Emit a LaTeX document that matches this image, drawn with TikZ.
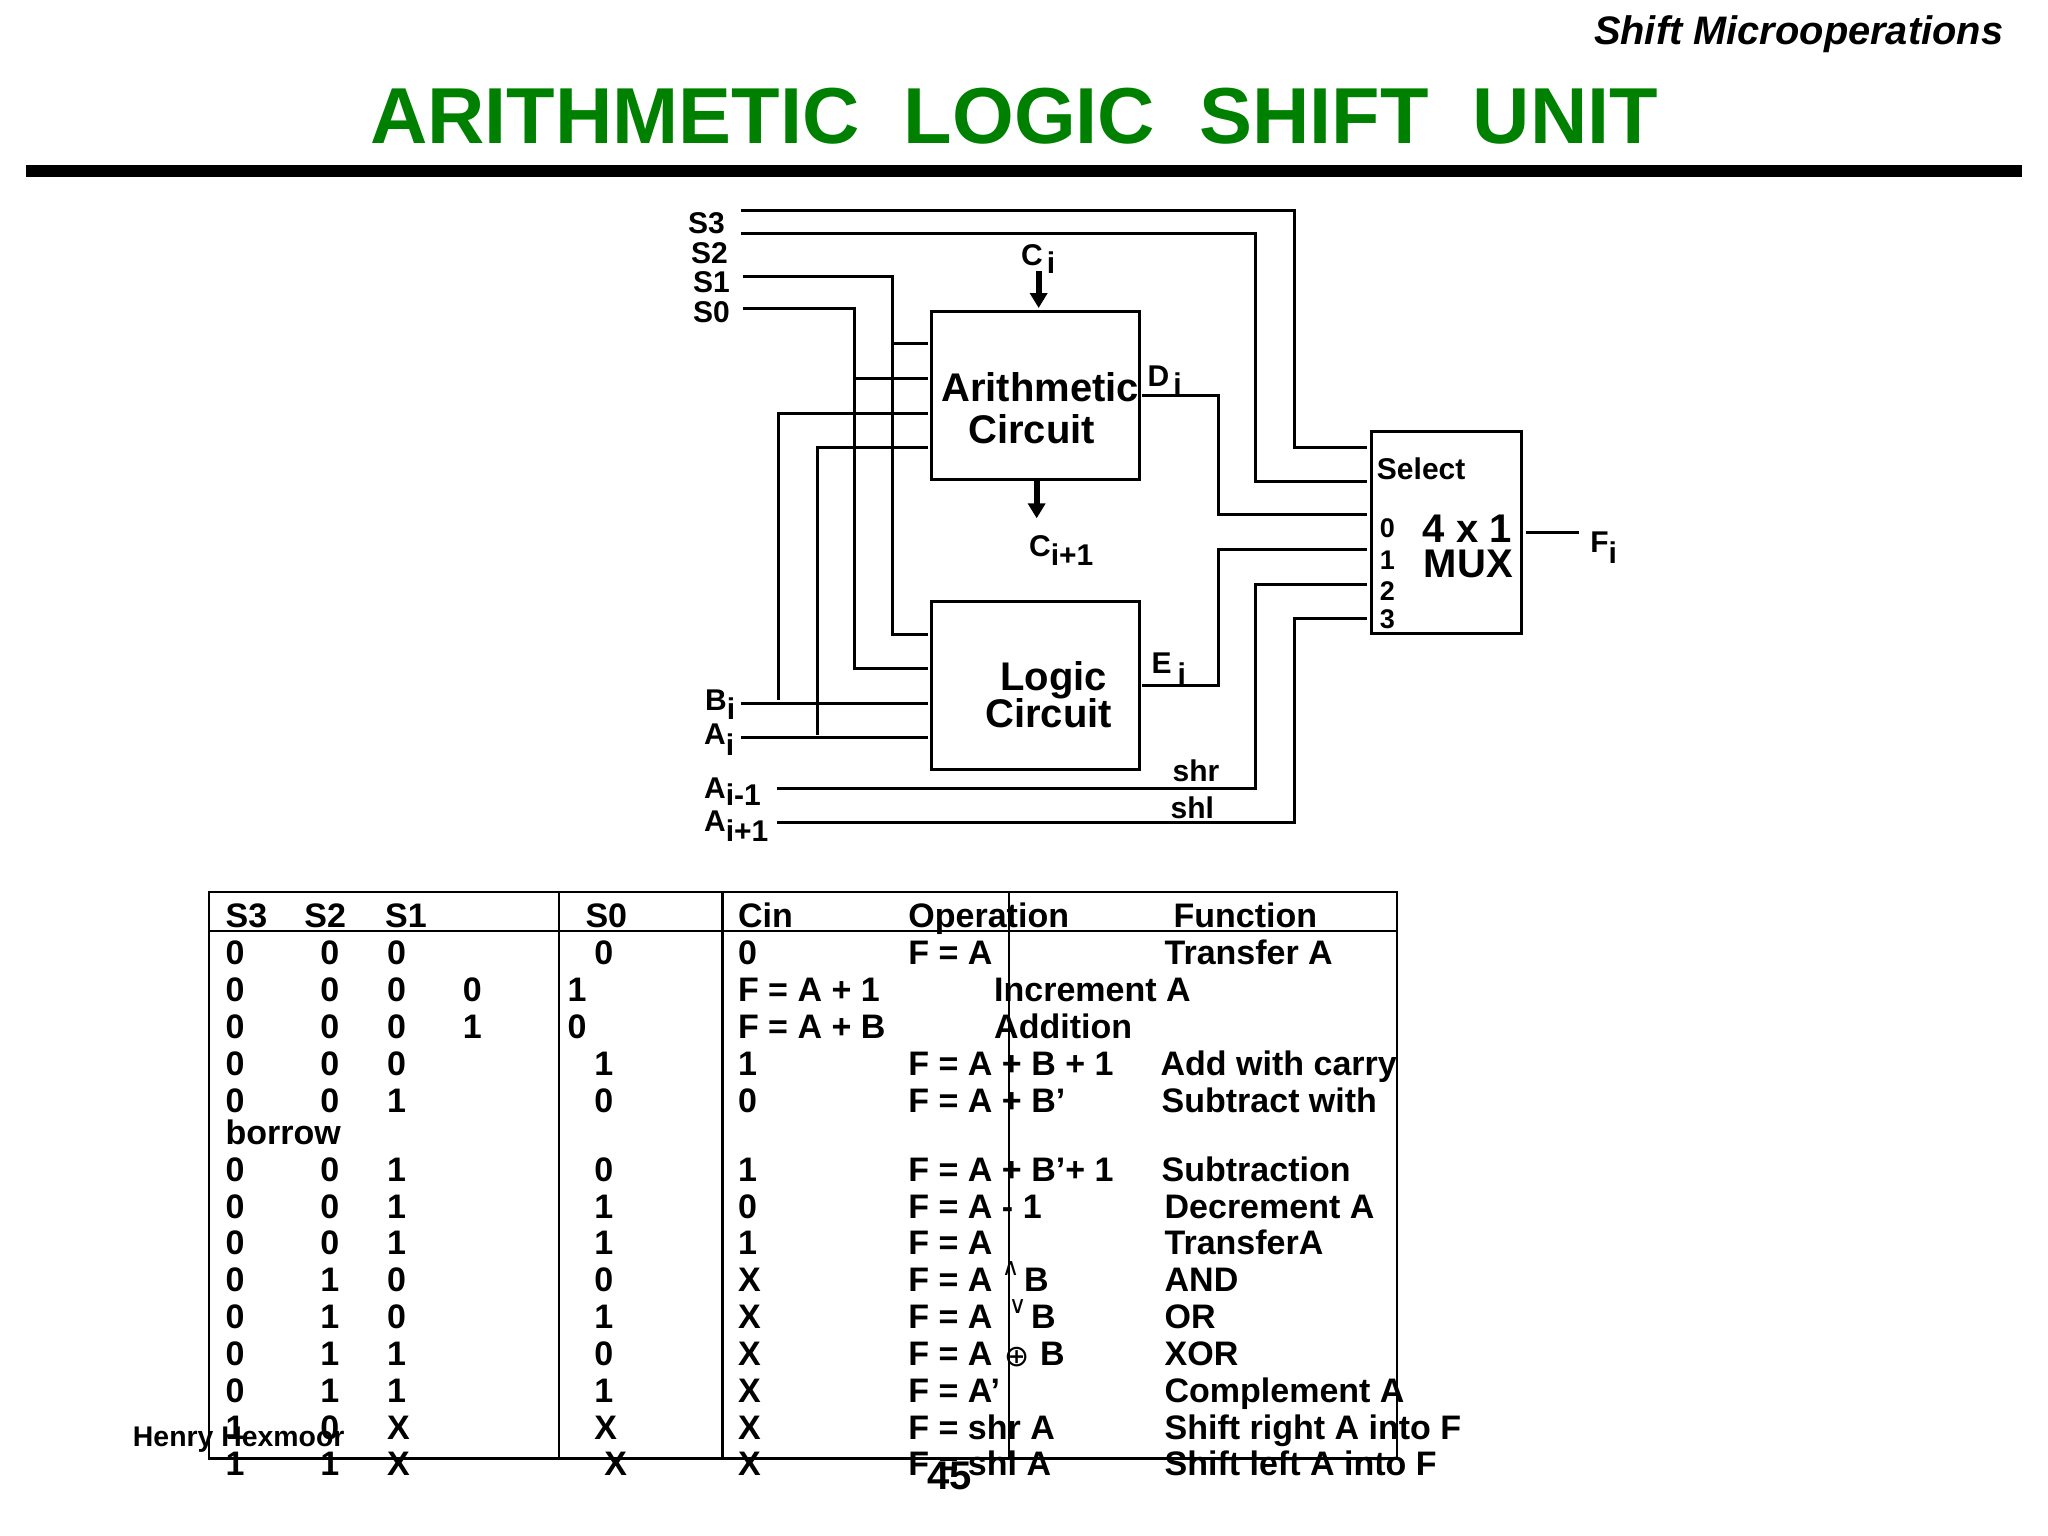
\documentclass[tikz,border=0pt]{standalone}
\usepackage{fontspec}
\setmainfont{Liberation Sans}
\newfontfamily\symfont{DejaVu Sans}
\usetikzlibrary{arrows.meta}
\definecolor{titlegreen}{RGB}{0,128,0}
\tikzset{
    wire/.style={line width=1.5pt},
    thickarrow/.style={line width=3pt, -{Triangle[width=8.5pt,length=7.5pt]}},
    blockbox/.style={draw, line width=1.5pt, inner sep=0pt, minimum width=104pt, minimum height=84pt},
    lab/.style={anchor=base west, inner sep=0pt, font=\bfseries\fontsize{15}{15}\selectfont},
    biglab/.style={anchor=base west, inner sep=0pt, font=\bfseries\fontsize{20}{20}\selectfont},
    pinlab/.style={anchor=base west, inner sep=0pt, font=\bfseries\fontsize{13.5}{13.5}\selectfont},
    cell/.style={anchor=base west, inner sep=0pt, font=\bfseries\fontsize{17}{17}\selectfont},
    tabline/.style={line width=1.25pt},
}
\newcommand{\drop}[2]{\raisebox{-#1pt}{#2}}

\begin{document}
\begin{tikzpicture}[x=0.4984pt, y=-0.4984pt]
    \useasboundingbox (0,0) rectangle (2054.6,1540.9);
    % heading
    \node[anchor=base east, inner sep=0pt, font=\bfseries\itshape\fontsize{19.9}{20}\selectfont] (slide) at (2010,45) {Shift Microoperations};
    \node[anchor=base west, inner sep=0pt, text=titlegreen, font=\bfseries\fontsize{39.7}{40}\selectfont] (title) at (371,144) {ARITHMETIC\ \ LOGIC\ \ SHIFT\ \ UNIT};
    \fill (26,166) rectangle (2028,178);

    % blocks
    \node[blockbox] (arith) at (1039,397) {};
    \node[blockbox] (logic) at (1039,688) {};
    \node[draw, line width=1.5pt, inner sep=0pt, minimum width=75pt, minimum height=101pt] (mux) at (1451,534) {};
    \node[biglab] (arithA) at (944,403) {Arithmetic};
    \node[biglab] (arithC) at (971,445) {Circuit};
    \node[biglab] (logicL) at (1003,693) {Logic};
    \node[biglab] (logicC) at (988,730) {Circuit};
    \node[lab] (sel) at (1381,481) {Select};
    \node[biglab] (muxA) at (1427,544) {4 x 1};
    \node[biglab] (muxB) at (1428,579) {MUX};
    \node[pinlab] (p0) at (1384,539) {0};
    \node[pinlab] (p1) at (1384,571) {1};
    \node[pinlab] (p2) at (1384,602) {2};
    \node[pinlab] (p3) at (1384,631) {3};

    % signal names
    \node[lab] (s3) at (690,234) {S3};
    \node[lab] (s2) at (693,264) {S2};
    \node[lab] (s1) at (695,293) {S1};
    \node[lab] (s0) at (695,324) {S0};
    \node[lab] (bi) at (707,713) {B\drop{4.5}{i}};
    \node[lab] (ai) at (706,747) {A\drop{5.5}{i}};
    \node[lab] (aim) at (706,801) {A\drop{3.5}{i-1}};
    \node[lab] (aip) at (706,834) {A\drop{5}{i+1}};
    \node[lab] (ci) at (1024,266) {C\hspace{2pt}\drop{4}{i}};
    \node[lab] (cip) at (1032,558) {C\drop{4.5}{i+1}};
    \node[lab] (di) at (1151,388) {D\hspace{2pt}\drop{4}{i}};
    \node[lab] (ei) at (1155,676) {E\hspace{3pt}\drop{5.5}{i}};
    \node[lab] (fi) at (1595,554) {F\drop{5.5}{i}};
    \node[lab] (shr) at (1176,784) {shr};
    \node[lab] (shl) at (1174,821) {shl};

    % free ends of the wires
    \coordinate (s3in) at (743,211);
    \coordinate (s2in) at (743,234);
    \coordinate (s1in) at (745,277);
    \coordinate (s0in) at (745,309);
    \coordinate (biin) at (743,706);
    \coordinate (aiin) at (743,740);
    \coordinate (amin) at (779,791);
    \coordinate (apin) at (779,825);
    \coordinate (s3mux) at (1371,449);
    \coordinate (s2mux) at (1371,483);
    \coordinate (d0mux) at (1371,516);
    \coordinate (d1mux) at (1371,551);
    \coordinate (d2mux) at (1371,586);
    \coordinate (d3mux) at (1371,620);
    \coordinate (s1bot) at (931,637);
    \coordinate (s0bot) at (931,671);
    \coordinate (s1top) at (931,345);
    \coordinate (s0top) at (931,380);
    \coordinate (bitop) at (931,415);
    \coordinate (aitop) at (931,449);
    \coordinate (biend) at (931,706);
    \coordinate (aiend) at (931,740);
    \coordinate (diout) at (1146,397);
    \coordinate (eiout) at (1146,688);
    \coordinate (fiout) at (1531,534);
    \coordinate (fiend) at (1584,534);

    % select lines into the mux
    \draw[wire] (s3in) -| (1299,449) -- (s3mux);
    \draw[wire] (s2in) -| (1260,483) -- (s2mux);
    % select lines into the two circuits
    \draw[wire] (s1in) -| (895,637) -- (s1bot);
    \draw[wire] (s0in) -| (857,671) -- (s0bot);
    \draw[wire] (895,345) -- (s1top);
    \draw[wire] (857,380) -- (s0top);
    % data inputs
    \draw[wire] (biin) -- (biend);
    \draw[wire] (aiin) -- (aiend);
    \draw[wire] (781,702) |- (bitop);
    \draw[wire] (820,737) |- (aitop);
    % circuit and shift outputs into the mux
    \draw[wire] (diout) -| (1222,516) -- (d0mux);
    \draw[wire] (eiout) -| (1222,551) -- (d1mux);
    \draw[wire] (amin) -| (1260,586) -- (d2mux);
    \draw[wire] (apin) -| (1299,620) -- (d3mux);
    \draw[line width=1.25pt] (fiout) -- (fiend);
    % carries
    \coordinate (cia) at (1042,272);
    \coordinate (cib) at (1042,309);
    \coordinate (coa) at (1040,483);
    \coordinate (cob) at (1040,520);
    \draw[thickarrow] (cia) -- (cib);
    \draw[thickarrow] (coa) -- (cob);

    % table frame
    \node[draw, line width=1.25pt, inner sep=0pt, minimum width=594pt, minimum height=283.4pt] (frame) at (805.6,1179) {};
    \draw[tabline] (frame.west |- 0,934) -- (frame.east |- 0,934);
    \foreach \x in {561,725,1012}
        \draw[tabline] (\x,895) -- (\x,1463);

    \begin{scope}[shift={(0,2)}]
    % table head
    \node[cell] (h1) at (226,928) {S3};
    \node[cell] (h2) at (305,928) {S2};
    \node[cell] (h3) at (386,928) {S1};
    \node[cell] (h4) at (587,928) {S0};
    \node[cell] (h5) at (740,928) {Cin};
    \node[cell] (h6) at (911,928) {Operation};
    \node[cell] (h7) at (1177,928) {Function};

    % regular rows: y / S3 / S2 / S1 / S0 / Cin / Operation / x of function / function
    \foreach \y/\ca/\cb/\cc/\cd/\ce/\cf/\fx/\cg in {
        966/0/0/0/0/0/F = A/1168/Transfer A,
        1077/0/0/0/1/1/F = A + B + 1/1164/Add with carry,
        1114/0/0/1/0/0/F = A + B’/1165/Subtract with,
        1183/0/0/1/0/1/F = A + B’+ 1/1165/Subtraction,
        1220/0/0/1/1/0/F = A - 1/1168/Decrement A,
        1257/0/0/1/1/1/F = A/1168/TransferA,
        1294/0/1/0/0/X/F = A/1168/AND,
        1331/0/1/0/1/X/F = A/1168/OR,
        1368/0/1/1/0/X/F = A/1168/XOR,
        1405/0/1/1/1/X/F = A’/1168/Complement A,
        1442/1/0/X/X/X/F = shr A/1168/Shift right A into F}
    {
        \node[cell] (a\y) at (226,\y) {\ca};
        \node[cell] (b\y) at (321,\y) {\cb};
        \node[cell] (c\y) at (388,\y) {\cc};
        \node[cell] (d\y) at (596,\y) {\cd};
        \node[cell] (e\y) at (740,\y) {\ce};
        \node[cell] (f\y) at (911,\y) {\cf};
        \node[cell] (g\y) at (\fx,\y) {\cg};
    }
    % rows that slid out of their columns
    \foreach \y/\cd/\ce/\cf/\cg in {1003/0/1/F = A + 1/Increment A, 1040/1/0/F = A + B/Addition}
    {
        \node[cell] (a\y) at (226,\y) {0};
        \node[cell] (b\y) at (321,\y) {0};
        \node[cell] (c\y) at (388,\y) {0};
        \node[cell] (d\y) at (464,\y) {\cd};
        \node[cell] (e\y) at (569,\y) {\ce};
        \node[cell] (f\y) at (740,\y) {\cf};
        \node[cell] (g\y) at (997,\y) {\cg};
    }
    \node[cell] (borrow) at (226,1146) {borrow};
    \node[cell] (a1479) at (226,1478) {1};
    \node[cell] (b1479) at (321,1478) {1};
    \node[cell] (c1479) at (388,1478) {X};
    \node[cell] (d1479) at (606,1478) {X};
    \node[cell] (e1479) at (740,1478) {X};
    \node[cell] (f1479) at (911,1478) {F = shl A};
    \node[cell] (g1479) at (1168,1478) {Shift left A into F};

    % logic signs
    \node[anchor=base, inner sep=0pt, font=\symfont\fontsize{12}{12}\selectfont] (andsign) at (1014,1278) {∧};
    \node[cell] (andB) at (1027,1294) {B};
    \node[anchor=base, inner sep=0pt, font=\symfont\fontsize{12}{12}\selectfont] (orsign) at (1021,1316) {∨};
    \node[cell] (orB) at (1034,1331) {B};
    \node[anchor=base, inner sep=0pt, font=\symfont\fontsize{15}{15}\selectfont] (xorsign) at (1020,1369) {⊕};
    \node[cell] (xorB) at (1043,1368) {B};
    \end{scope}

    % footer
    \node[anchor=base west, inner sep=0pt, font=\bfseries\fontsize{14.2}{15}\selectfont] (author) at (133,1451) {Henry Hexmoor};
    \node[anchor=base west, inner sep=0pt, font=\bfseries\fontsize{20}{20}\selectfont] (page) at (930,1494) {45};
\end{tikzpicture}
\end{document}
